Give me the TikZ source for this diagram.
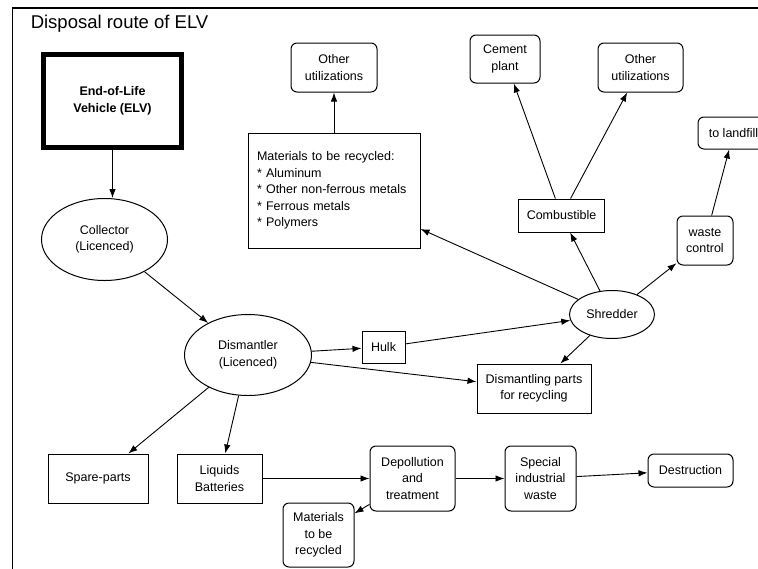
\documentclass[tikz,border=0pt]{standalone}
\usepackage{fontspec}
\setmainfont{Liberation Sans}
\usetikzlibrary{shapes.geometric,arrows.meta}

\begin{document}
\begin{tikzpicture}[x=1pt,y=-1pt,->,>={Latex[length=9pt,width=6.5pt]},line width=0.9pt,
    font=\fontsize{12.5}{16.5}\selectfont,
    box/.style={rectangle,draw,line width=1pt,inner sep=0pt,align=center},
    round box/.style={box,rounded corners=6pt},
    oval/.style={ellipse,draw,line width=1pt,inner sep=0pt,align=center}]
  \clip (0,0) rectangle (758,568);
  \draw[-,line width=1.6pt] (12.5,580) |- (770,8);
  \node[anchor=base west,font=\fontsize{18.5}{22}\selectfont] (title) at (27,28) {Disposal route of ELV};

  \node[box,line width=5pt,minimum width=138pt,minimum height=93pt,
        font=\fontsize{12.5}{17}\selectfont\bfseries] (elv) at (112.5,101) {End-of-Life\\Vehicle (ELV)};
  \node[oval,minimum width=126pt,minimum height=82pt] (coll) at (104.5,239.5) {Collector\\(Licenced)};
  \node[oval,minimum width=127pt,minimum height=81pt] (dism) at (248,355) {Dismantler\\(Licenced)};
  \node[box,minimum width=43pt,minimum height=32pt] (hulk) at (383.5,347) {Hulk};
  \node[oval,minimum width=85pt,minimum height=48pt] (shred) at (612,314.5) {Shredder};
  \node[box,minimum width=114pt,minimum height=49pt] (dparts) at (534,388.5) {Dismantling parts\\for recycling};
  \node[box,align=left,text width=154pt,inner xsep=9pt,minimum height=115pt] (mat) at (334,190.5)
    {Materials to be recycled:\\{*} Aluminum\\{*} Other non-ferrous metals\\{*} Ferrous metals\\{*} Polymers};
  \node[round box,minimum width=86pt,minimum height=49pt] (oth1) at (334,67.5) {Other\\utilizations};
  \node[round box,minimum width=70pt,minimum height=48pt] (cement) at (505,59) {Cement\\plant};
  \node[box,minimum width=86pt,minimum height=33pt] (comb) at (561.5,215.5) {Combustible};
  \node[round box,minimum width=85pt,minimum height=49pt] (oth2) at (640.5,67.5) {Other\\utilizations};
  \node[round box,minimum width=56pt,minimum height=49pt] (waste) at (705,240.5) {waste\\control};
  \node[round box,minimum width=71pt,minimum height=32pt] (landfill) at (733.5,133) {to landfill};
  \node[box,minimum width=100pt,minimum height=49pt] (spare) at (98,478.5) {Spare-parts};
  \node[box,minimum width=85pt,minimum height=49pt] (liq) at (219.5,478.5) {Liquids\\Batteries};
  \node[round box,minimum width=85pt,minimum height=65pt] (depol) at (412.5,478.5) {Depollution\\and\\treatment};
  \node[round box,minimum width=71pt,minimum height=64pt] (matrec) at (318.5,535) {Materials\\to be\\recycled};
  \node[round box,minimum width=71pt,minimum height=65pt] (special) at (540.5,478.5) {Special\\industrial\\waste};
  \node[round box,minimum width=85pt,minimum height=33pt] (destr) at (690.5,470.5) {Destruction};

  \path
    (elv.south) edge (elv.south |- coll.north)
    (coll) edge (dism)
    (dism) edge (hulk)
    (dism) edge (dparts)
    (dism) edge (spare)
    (dism) edge (liq)
    (hulk) edge (shred)
    (shred) edge (dparts)
    (shred) edge (mat)
    (shred) edge (comb)
    (shred) edge (waste)
    (comb) edge (cement)
    (comb) edge (oth2)
    (mat) edge (oth1)
    (waste) edge (landfill)
    (liq) edge (depol)
    (depol) edge (special)
    (depol) edge (matrec)
    (special) edge (destr);
\end{tikzpicture}
\end{document}
